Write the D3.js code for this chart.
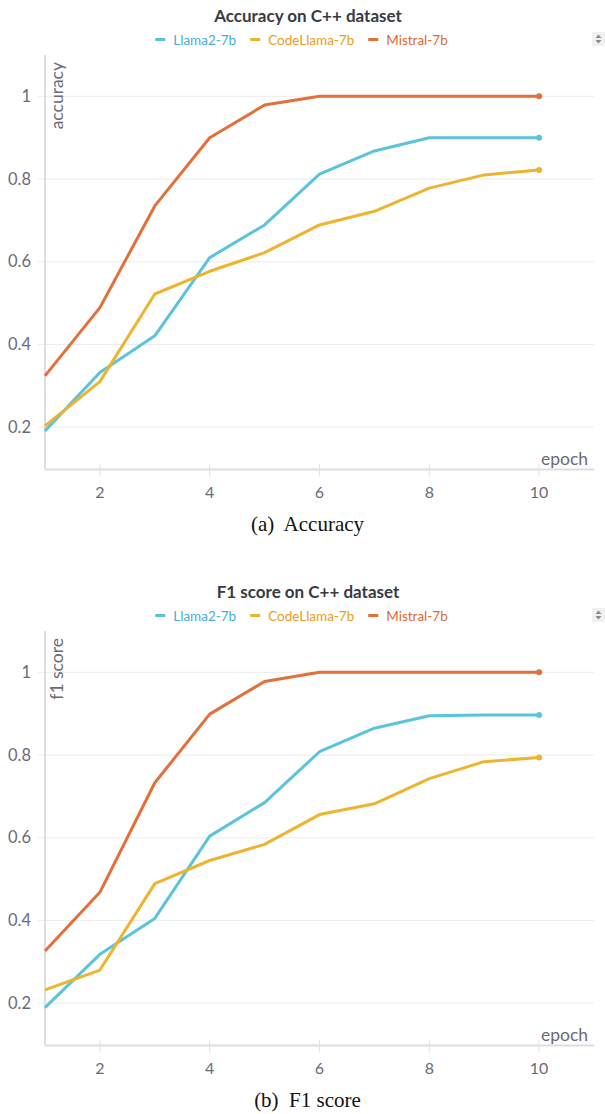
<!DOCTYPE html>
<html>
<head>
<meta charset="utf-8">
<script src="https://cdn.jsdelivr.net/npm/d3@7/dist/d3.min.js"></script>
<style>
  html, body { margin: 0; padding: 0; background: #fff; }
  svg { display: block; }
</style>
</head>
<body>
<svg id="chart" width="605" height="1114"></svg>
<script>
// ---------- data ----------
const epochs = [1, 2, 3, 4, 5, 6, 7, 8, 9, 10];
const seriesNames = ["Llama2-7b", "CodeLlama-7b", "Mistral-7b"];

const accLlama2    = [0.191, 0.332, 0.421, 0.610, 0.689, 0.812, 0.868, 0.900, 0.900, 0.900];
const accCodeLlama = [0.203, 0.310, 0.522, 0.577, 0.622, 0.689, 0.722, 0.778, 0.810, 0.822];
const accMistral   = [0.324, 0.489, 0.735, 0.900, 0.979, 1.000, 1.000, 1.000, 1.000, 1.000];

const f1Llama2     = [0.189, 0.318, 0.405, 0.604, 0.685, 0.808, 0.865, 0.895, 0.897, 0.897];
const f1CodeLlama  = [0.232, 0.280, 0.489, 0.545, 0.584, 0.656, 0.682, 0.743, 0.784, 0.794];
const f1Mistral    = [0.326, 0.468, 0.733, 0.899, 0.978, 1.000, 1.000, 1.000, 1.000, 1.000];

const xTicks = [2, 4, 6, 8, 10];
const yTicks = [0.2, 0.4, 0.6, 0.8, 1];
const yTickLabels = ["0.2", "0.4", "0.6", "0.8", "1"];

const charts = [
  { title: "Accuracy on C++ dataset", yLabel: "accuracy", caption: "(a)  Accuracy",
    values: [accLlama2, accCodeLlama, accMistral] },
  { title: "F1 score on C++ dataset", yLabel: "f1 score", caption: "(b)  F1 score",
    values: [f1Llama2, f1CodeLlama, f1Mistral] }
];

// ---------- styles ----------
const lineColors = ["#5bc4dc", "#eeb42e", "#e3703a"];
const legendTextColors = ["#3fb0da", "#e6a020", "#dc6a38"];
const FONT = "Lato, 'Source Sans Pro', 'Open Sans', sans-serif";
const tickColor = "#6b6b78";

const svg = d3.select("#chart");

function drawChart(cfg, offsetY) {
  const g = svg.append("g").attr("transform", `translate(0,${offsetY})`);
  const left = 45, right = 594, top = 55, bottom = 468.5;

  const x = d3.scaleLinear().domain([1, 11]).range([left, right]);
  const y = d3.scaleLinear().domain([0.1, 1.1]).range([bottom, top]);

  // title
  g.append("text")
    .attr("x", 308).attr("y", 22)
    .attr("text-anchor", "middle")
    .attr("font-family", FONT).attr("font-weight", "700")
    .attr("font-size", 17).attr("fill", "#3a3a42")
    .text(cfg.title);

  // legend
  const lg = g.append("g");
  let cx = 0;
  seriesNames.forEach((name, i) => {
    const item = lg.append("g").attr("transform", `translate(${cx},0)`);
    item.append("line")
      .attr("x1", 0).attr("x2", 10).attr("y1", 39.5).attr("y2", 39.5)
      .attr("stroke", lineColors[i]).attr("stroke-width", 3);
    const t = item.append("text")
      .attr("x", 18).attr("y", 44.5)
      .attr("font-family", FONT).attr("font-size", 13.5)
      .attr("fill", legendTextColors[i])
      .text(name);
    const w = t.node().getComputedTextLength();
    cx += 18 + w + 14;
  });
  const totalW = cx - 14;
  lg.attr("transform", `translate(${301.5 - totalW / 2},0)`);

  // scroll icon
  const si = g.append("g");
  si.append("rect").attr("x", 592).attr("y", 32).attr("width", 13).attr("height", 14)
    .attr("fill", "#f0f0f0");
  si.append("path").attr("d", "M595.5,38 L598.5,34.5 L601.5,38 Z").attr("fill", "#8a8a8a");
  si.append("path").attr("d", "M595.5,40 L598.5,43.5 L601.5,40 Z").attr("fill", "#8a8a8a");

  // gridlines
  g.append("g").selectAll("line").data(yTicks).join("line")
    .attr("x1", left - 7).attr("x2", right)
    .attr("y1", d => y(d)).attr("y2", d => y(d))
    .attr("stroke", "#ececec").attr("stroke-width", 1);

  // y axis tick labels
  g.append("g").selectAll("text").data(yTicks).join("text")
    .attr("x", 31).attr("y", d => y(d) + 5.5)
    .attr("text-anchor", "end")
    .attr("font-family", FONT).attr("font-size", 16.5)
    .attr("fill", tickColor)
    .text((d, i) => yTickLabels[i]);

  // axes lines
  g.append("line").attr("x1", left).attr("x2", left).attr("y1", top).attr("y2", bottom + 1)
    .attr("stroke", "#dedede").attr("stroke-width", 2);
  g.append("line").attr("x1", left).attr("x2", right).attr("y1", bottom + 1).attr("y2", bottom + 1)
    .attr("stroke", "#dedede").attr("stroke-width", 2);

  // x ticks
  g.append("g").selectAll("line").data(xTicks).join("line")
    .attr("x1", d => x(d)).attr("x2", d => x(d))
    .attr("y1", bottom - 5).attr("y2", bottom + 8)
    .attr("stroke", "#e2e2e2").attr("stroke-width", 1);
  g.append("g").selectAll("text").data(xTicks).join("text")
    .attr("x", d => x(d)).attr("y", 498)
    .attr("text-anchor", "middle")
    .attr("font-family", FONT).attr("font-size", 16)
    .attr("fill", tickColor)
    .text(d => d);

  // axis titles
  g.append("text")
    .attr("transform", `translate(62.5,62) rotate(-90)`)
    .attr("text-anchor", "end")
    .attr("font-family", FONT).attr("font-size", 17.5)
    .attr("fill", tickColor)
    .text(cfg.yLabel);
  g.append("text")
    .attr("x", 588).attr("y", 465)
    .attr("text-anchor", "end")
    .attr("font-family", FONT).attr("font-size", 17.5)
    .attr("fill", tickColor)
    .text("epoch");

  // lines
  const line = d3.line().x((d, i) => x(epochs[i])).y(d => y(d));
  cfg.values.forEach((vals, i) => {
    g.append("path").datum(vals)
      .attr("d", line)
      .attr("fill", "none")
      .attr("stroke", lineColors[i])
      .attr("stroke-width", 3)
      .attr("stroke-linejoin", "round");
    const last = vals.length - 1;
    g.append("circle")
      .attr("cx", x(epochs[last])).attr("cy", y(vals[last]))
      .attr("r", 3).attr("fill", lineColors[i]);
  });

  // caption
  g.append("text")
    .attr("x", 307.5).attr("y", 531)
    .attr("text-anchor", "middle")
    .attr("font-family", "'Liberation Serif', 'Times New Roman', serif")
    .attr("font-size", 21).attr("fill", "#111")
    .attr("xml:space", "preserve")
    .style("white-space", "pre")
    .text(cfg.caption);
}

drawChart(charts[0], 0);
drawChart(charts[1], 576);
</script>
</body>
</html>
